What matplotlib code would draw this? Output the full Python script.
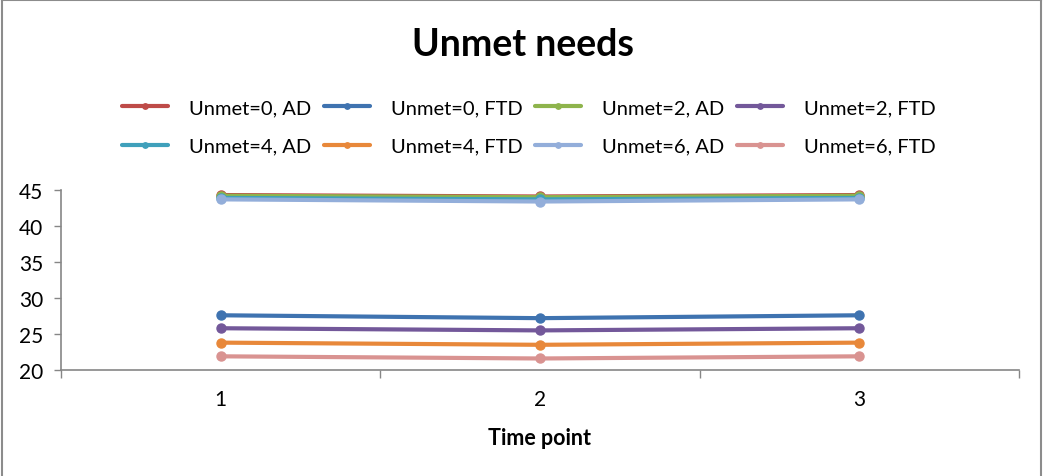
import matplotlib
matplotlib.use("Agg")
import matplotlib.pyplot as plt
from matplotlib.lines import Line2D

time_points = [1, 2, 3]
series_labels = ["Unmet=0, AD", "Unmet=0, FTD", "Unmet=2, AD", "Unmet=2, FTD",
                 "Unmet=4, AD", "Unmet=4, FTD", "Unmet=6, AD", "Unmet=6, FTD"]
unmet0_ad = [44.3, 44.1, 44.3]
unmet0_ftd = [27.6, 27.2, 27.6]
unmet2_ad = [44.2, 44.0, 44.2]
unmet2_ftd = [25.8, 25.5, 25.8]
unmet4_ad = [43.9, 43.7, 43.9]
unmet4_ftd = [23.8, 23.5, 23.8]
unmet6_ad = [43.7, 43.4, 43.7]
unmet6_ftd = [21.9, 21.6, 21.9]
series_values = [unmet0_ad, unmet0_ftd, unmet2_ad, unmet2_ftd,
                 unmet4_ad, unmet4_ftd, unmet6_ad, unmet6_ftd]
colors = ["#BE4B48", "#3F73B0", "#8EB44C", "#73589A",
          "#3FA0BB", "#E8883A", "#93AEDA", "#D99391"]
y_ticks = [20, 25, 30, 35, 40, 45]

plt.rcParams['font.family'] = ['Lato', 'DejaVu Sans']

fig = plt.figure(figsize=(10.45, 4.77), dpi=100)
ax = fig.add_axes([61/1045, 1 - 371/477, (1019-61)/1045, (371-191)/477])

handles = []
for vals, lab, c in zip(series_values, series_labels, colors):
    h, = ax.plot(time_points, vals, color=c, lw=3, marker='o', ms=6.5, label=lab,
                 solid_capstyle='round')
    handles.append(h)

ax.set_xlim(0.5, 3.5)
ax.set_ylim(20, 45)
ax.set_yticks(y_ticks)
ax.set_xticks(time_points)
ax.set_xticks([0.5, 1.5, 2.5, 3.5], minor=True)
ax.tick_params(axis='x', which='major', length=0, pad=14, labelsize=15)
ax.tick_params(axis='x', which='minor', length=6, color='#868686', width=1)
ax.tick_params(axis='y', length=5, color='#868686', width=1, labelsize=15, pad=8)
for s in ['top', 'right']:
    ax.spines[s].set_visible(False)
for s in ['left', 'bottom']:
    ax.spines[s].set_color('#868686')
    ax.spines[s].set_linewidth(1.2)

ax.set_xlabel("Time point", fontsize=15.5, fontweight='bold', labelpad=13)
fig.text(0.5, 1 - 45/477, "Unmet needs", ha='center', va='center',
         fontsize=27, fontweight='bold')

order = [0, 4, 1, 5, 2, 6, 3, 7]
leg = fig.legend([handles[i] for i in order], [series_labels[i] for i in order],
                 loc='center', bbox_to_anchor=(0.506, 1 - 128/477), ncol=4,
                 frameon=False, fontsize=14.5, handlelength=2.3,
                 columnspacing=0.6, handletextpad=1.05, labelspacing=1.05,
                 markerscale=0.6)

# outer chart frame (left, top, right edges visible)
W, H = 1045, 477
frame_kw = dict(transform=fig.transFigure, color='#8C8C8C', lw=1.5)
fig.add_artist(Line2D([2/W, 2/W], [0, 1 - 1/H], **frame_kw))
fig.add_artist(Line2D([2/W, 1041/W], [1 - 1/H, 1 - 1/H], **frame_kw))
fig.add_artist(Line2D([1041/W, 1041/W], [0, 1 - 1/H], **frame_kw))

fig.savefig("out.png", dpi=100)
